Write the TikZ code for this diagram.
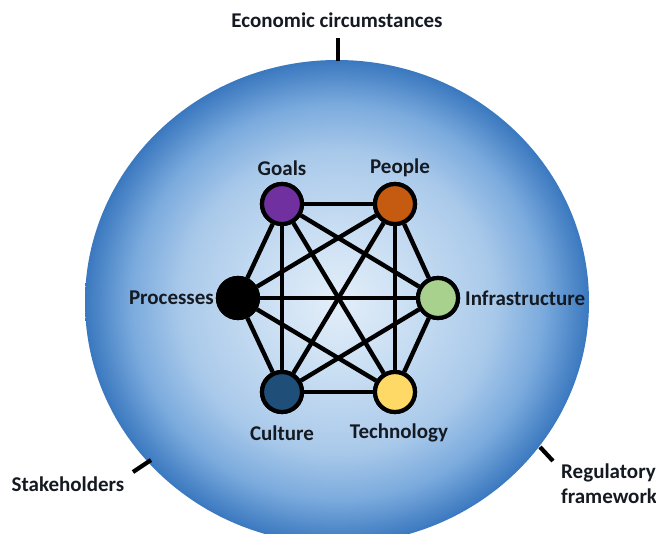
\documentclass[tikz,border=0pt]{standalone}
\usepackage{fontspec}
\setmainfont{Carlito}
\definecolor{bc0}{HTML}{E3EEF9}
\definecolor{bc1}{HTML}{CFE2F4}
\definecolor{bc2}{HTML}{A9C9EA}
\definecolor{bc3}{HTML}{7AAADD}
\definecolor{bc4}{HTML}{3A78BF}
\definecolor{goalc}{HTML}{7030A0}
\definecolor{peoplec}{HTML}{C55A11}
\definecolor{procc}{HTML}{000000}
\definecolor{infrac}{HTML}{A9D18E}
\definecolor{culturec}{HTML}{1F4E79}
\definecolor{techc}{HTML}{FFD966}
\definecolor{txt}{HTML}{151A22}
\pgfdeclareradialshading{ballshade}{\pgfpoint{0bp}{0bp}}{color(0bp)=(bc0); color(6bp)=(bc1); color(15.5bp)=(bc2); color(20.5bp)=(bc3); color(25bp)=(bc4); color(50bp)=(bc4)}
\tikzset{
  ball/.style={circle, draw=black, line width=4.2pt, minimum size=40pt, inner sep=0pt},
  link/.style={draw=black, line width=4.4pt},
  tick/.style={draw=black, line width=4.2pt},
  lab/.style={font=\bfseries\fontsize{21}{25}\selectfont, text=txt, inner sep=0pt},
}
\begin{document}
\begin{tikzpicture}[x=1pt,y=-1pt]
\useasboundingbox (0,0) rectangle (656,533);
\begin{scope}
\clip (0,0) rectangle (656,533);
\shade[shading=ballshade] (337,302) ellipse [x radius=252, y radius=242];
\end{scope}
% nodes
\node[ball, fill=goalc] (goals) at (282,204) {};
\node[ball, fill=peoplec] (people) at (395,204) {};
\node[ball, fill=procc] (proc) at (238,298) {};
\node[ball, fill=infrac] (infra) at (438,298) {};
\node[ball, fill=culturec] (culture) at (282,392) {};
\node[ball, fill=techc] (tech) at (395,392) {};
% links
\foreach \a/\b in {goals/people, goals/proc, goals/culture, goals/infra, goals/tech,
                   people/proc, people/culture, people/infra, people/tech,
                   proc/infra, proc/culture, proc/tech,
                   infra/culture, infra/tech, culture/tech}
  \draw[link] (\a) -- (\b);
% redraw nodes on top
\node[ball, fill=goalc] at (goals) {};
\node[ball, fill=peoplec] at (people) {};
\node[ball, fill=procc] at (proc) {};
\node[ball, fill=infrac] at (infra) {};
\node[ball, fill=culturec] at (culture) {};
\node[ball, fill=techc] at (tech) {};
% labels
\node[lab] (lgoals) at (282,168) {Goals};
\node[lab] (lpeople) at (400,168) {People};
\node[lab, anchor=east] (lproc) at (214,298) {Processes};
\node[lab, anchor=west] (linfra) at (465,298) {Infrastructure};
\node[lab] (lculture) at (282,433) {Culture};
\node[lab] (ltech) at (399,433) {Technology};
% outside labels
\node[lab] (lecon) at (337,20) {Economic circumstances};
\node[lab] (lstake) at (68,484) {Stakeholders};
\node[lab, align=left, anchor=west] (lreg) at (561,484) {Regulatory\\framework};
% ticks
\coordinate (econa) at (338,38);
\coordinate (econb) at (338,61);
\coordinate (stka) at (133,472);
\coordinate (stkb) at (151,460);
\coordinate (rega) at (540,447);
\coordinate (regb) at (553,461);
\draw[tick] (econa) -- (econb);
\draw[tick] (stka) -- (stkb);
\draw[tick] (rega) -- (regb);
\end{tikzpicture}
\end{document}
